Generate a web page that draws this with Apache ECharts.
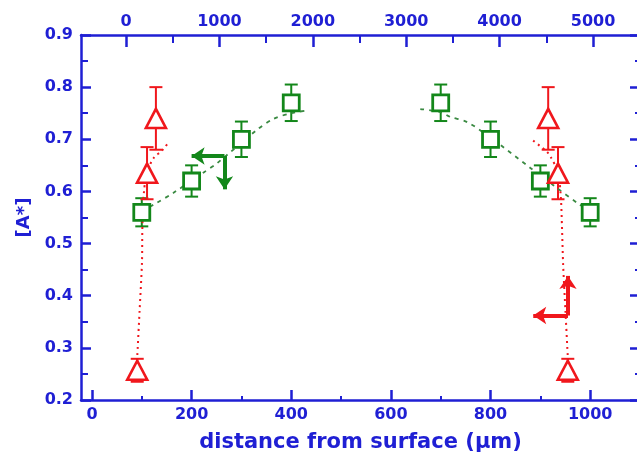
<!DOCTYPE html>
<html>
<head>
<meta charset="utf-8">
<script src="https://cdn.jsdelivr.net/npm/echarts@6/dist/echarts.min.js"></script>
<style>
  html, body { margin: 0; padding: 0; background: #fff; }
  #chart { width: 637px; height: 454px; }
</style>
</head>
<body>
<div id="chart"></div>
<script>
// Squares: concentration profile against the lower axis (µm)
const greenX = [100, 200, 300, 400, 700, 800, 900, 1000];
const greenY = [0.56, 0.62, 0.70, 0.77, 0.77, 0.70, 0.62, 0.56];
const greenErr = [0.027, 0.03, 0.034, 0.035, 0.035, 0.034, 0.03, 0.027];

// Triangles: profile against the upper axis
const redX = [120, 225, 320, 4520, 4625, 4730];
const redY = [0.257, 0.635, 0.74, 0.74, 0.635, 0.257];
const redErr = [0.022, 0.05, 0.06, 0.06, 0.05, 0.022];

// Guide-to-the-eye curves
const greenFitLeftX = [100, 130, 163, 225, 251, 331, 364, 400, 436];
const greenFitLeftY = [0.562, 0.578, 0.597, 0.637, 0.654, 0.718, 0.739, 0.750, 0.756];
const greenFitRightX = [659, 700, 719, 753, 799, 880, 926, 980, 1000];
const greenFitRightY = [0.758, 0.752, 0.743, 0.733, 0.704, 0.645, 0.612, 0.574, 0.564];
const redFitLeftX = [118, 145, 171, 175, 190, 225, 300, 385, 450];
const redFitLeftY = [0.275, 0.37, 0.465, 0.53, 0.595, 0.637, 0.665, 0.678, 0.693];
const redFitRightX = [4732, 4705, 4680, 4668, 4655, 4625, 4550, 4507, 4347];
const redFitRightY = [0.275, 0.37, 0.46, 0.53, 0.59, 0.637, 0.665, 0.676, 0.699];

// Axis ticks
const bottomTicks = [0, 200, 400, 600, 800, 1000];
const bottomMinor = [100, 300, 500, 700, 900];
const topTicks = [0, 1000, 2000, 3000, 4000, 5000];
const topMinor = [500, 1500, 2500, 3500, 4500];

// Axis-assignment arrows: [corner x, corner y, horizontal tip x, vertical tip y]
const greenArrow = [266, 0.668, 200, 0.604];
const redArrow = [4732, 0.362, 4360, 0.438];

const BLUE = '#1f1fd4';
const GREEN = '#13871a';
const GREEN_FIT = '#3a8a42';
const RED = '#f0171c';
const FONT = 'DejaVu Sans';

function zip(a, b, c) {
  return a.map((v, i) => c ? [v, b[i], c[i]] : [v, b[i]]);
}

function errorBars(color, capW, lw) {
  return function (params, api) {
    const x = api.value(0), y = api.value(1), e = api.value(2);
    const hi = api.coord([x, y + e]);
    const lo = api.coord([x, y - e]);
    const st = { stroke: color, lineWidth: lw, fill: null };
    return {
      type: 'group',
      children: [
        { type: 'line', shape: { x1: hi[0], y1: hi[1], x2: lo[0], y2: lo[1] }, style: st },
        { type: 'line', shape: { x1: hi[0] - capW / 2, y1: hi[1], x2: hi[0] + capW / 2, y2: hi[1] }, style: st },
        { type: 'line', shape: { x1: lo[0] - capW / 2, y1: lo[1], x2: lo[0] + capW / 2, y2: lo[1] }, style: st }
      ]
    };
  };
}

function arrowLines(a, color) {
  return {
    silent: true,
    animation: false,
    symbol: ['none', 'arrow'],
    symbolSize: [13, 13],
    label: { show: false },
    lineStyle: { color: color, width: 4, type: 'solid' },
    data: [
      [{ coord: [a[0], a[1]] }, { coord: [a[2], a[1]] }],
      [{ coord: [a[0], a[1]] }, { coord: [a[0], a[3]] }]
    ]
  };
}

const labelStyle = { color: BLUE, fontWeight: 'bold', fontSize: 16, fontFamily: FONT };
const lineStyle = { color: BLUE, width: 2.5 };
const plain = v => String(v);

const chart = echarts.init(document.getElementById('chart'), null, { renderer: 'canvas' });
chart.setOption({
  animation: false,
  backgroundColor: '#ffffff',
  grid: { left: 81, top: 35, width: 559, height: 365, containLabel: false, outerBoundsMode: 'none' },
  xAxis: [
    {
      type: 'value', position: 'bottom', min: -22, max: 1100,
      axisLine: { show: true, onZero: false, lineStyle },
      axisTick: { show: true, inside: true, length: 10, customValues: bottomTicks, lineStyle },
      axisLabel: Object.assign({ customValues: bottomTicks, margin: 7, formatter: plain }, labelStyle),
      splitLine: { show: false },
      name: 'distance from surface (μm)', nameLocation: 'middle', nameGap: 32,
      nameTextStyle: { color: BLUE, fontWeight: 'bold', fontSize: 21, fontFamily: FONT }
    },
    {
      type: 'value', position: 'top', min: -482, max: 5503,
      axisLine: { show: true, onZero: false, lineStyle },
      axisTick: { show: true, inside: true, length: 12, customValues: topTicks, lineStyle },
      axisLabel: Object.assign({ customValues: topTicks, margin: 5, formatter: plain }, labelStyle),
      splitLine: { show: false }
    },
    {
      type: 'value', position: 'bottom', min: -22, max: 1100,
      axisLine: { show: false },
      axisTick: { show: true, inside: true, length: 4, customValues: bottomMinor, lineStyle: { color: BLUE, width: 2 } },
      axisLabel: { show: false }, splitLine: { show: false }
    },
    {
      type: 'value', position: 'top', min: -482, max: 5503,
      axisLine: { show: false },
      axisTick: { show: true, inside: true, length: 8, customValues: topMinor, lineStyle: { color: BLUE, width: 2 } },
      axisLabel: { show: false }, splitLine: { show: false }
    }
  ],
  yAxis: [
    {
      type: 'value', position: 'left', min: 0.2, max: 0.9, interval: 0.1,
      axisLine: { show: true, onZero: false, lineStyle },
      axisTick: { show: true, inside: true, length: 10, lineStyle },
      minorTick: { show: true, splitNumber: 2, length: 7, lineStyle: { color: BLUE, width: 2 } },
      axisLabel: Object.assign({ margin: 8, formatter: v => v.toFixed(1) }, labelStyle),
      splitLine: { show: false },
      name: '[A*]', nameLocation: 'middle', nameGap: 48,
      nameTextStyle: { color: BLUE, fontWeight: 'bold', fontSize: 18, fontFamily: FONT }
    },
    {
      type: 'value', position: 'right', min: 0.2, max: 0.9, interval: 0.1,
      axisLine: { show: true, onZero: false, lineStyle },
      axisTick: { show: true, inside: true, length: 10, lineStyle },
      minorTick: { show: true, splitNumber: 2, length: 5, lineStyle: { color: BLUE, width: 2 } },
      axisLabel: { show: false },
      splitLine: { show: false }
    }
  ],
  series: [
    {
      type: 'custom', name: 'green error', xAxisIndex: 0, yAxisIndex: 0, z: 2,
      renderItem: errorBars(GREEN, 13, 2),
      encode: { x: 0, y: 1 },
      data: zip(greenX, greenY, greenErr)
    },
    {
      type: 'custom', name: 'red error', xAxisIndex: 1, yAxisIndex: 0, z: 2,
      renderItem: errorBars(RED, 13, 2),
      encode: { x: 0, y: 1 },
      data: zip(redX, redY, redErr)
    },
    {
      type: 'line', xAxisIndex: 0, yAxisIndex: 0, z: 3, smooth: 0.3, showSymbol: false, silent: true,
      lineStyle: { color: GREEN_FIT, width: 1.8, type: [4, 5] },
      data: zip(greenFitLeftX, greenFitLeftY),
      markLine: arrowLines(greenArrow, GREEN)
    },
    {
      type: 'line', xAxisIndex: 0, yAxisIndex: 0, z: 3, smooth: 0.3, showSymbol: false, silent: true,
      lineStyle: { color: GREEN_FIT, width: 1.8, type: [4, 5] },
      data: zip(greenFitRightX, greenFitRightY)
    },
    {
      type: 'line', xAxisIndex: 1, yAxisIndex: 0, z: 3, smooth: 0.3, showSymbol: false, silent: true,
      lineStyle: { color: RED, width: 2, type: [2, 4] },
      data: zip(redFitLeftX, redFitLeftY)
    },
    {
      type: 'line', xAxisIndex: 1, yAxisIndex: 0, z: 3, smooth: 0.3, showSymbol: false, silent: true,
      lineStyle: { color: RED, width: 2, type: [2, 4] },
      data: zip(redFitRightX, redFitRightY),
      markLine: arrowLines(redArrow, RED)
    },
    {
      type: 'scatter', xAxisIndex: 0, yAxisIndex: 0, z: 5,
      symbol: 'rect', symbolSize: 16,
      itemStyle: { color: '#ffffff', borderColor: GREEN, borderWidth: 2.8, opacity: 1 },
      data: zip(greenX, greenY)
    },
    {
      type: 'scatter', xAxisIndex: 1, yAxisIndex: 0, z: 5,
      symbol: 'triangle', symbolSize: [20, 19],
      itemStyle: { color: '#ffffff', borderColor: RED, borderWidth: 2.6, opacity: 1 },
      data: zip(redX, redY)
    }
  ]
});
</script>
</body>
</html>
